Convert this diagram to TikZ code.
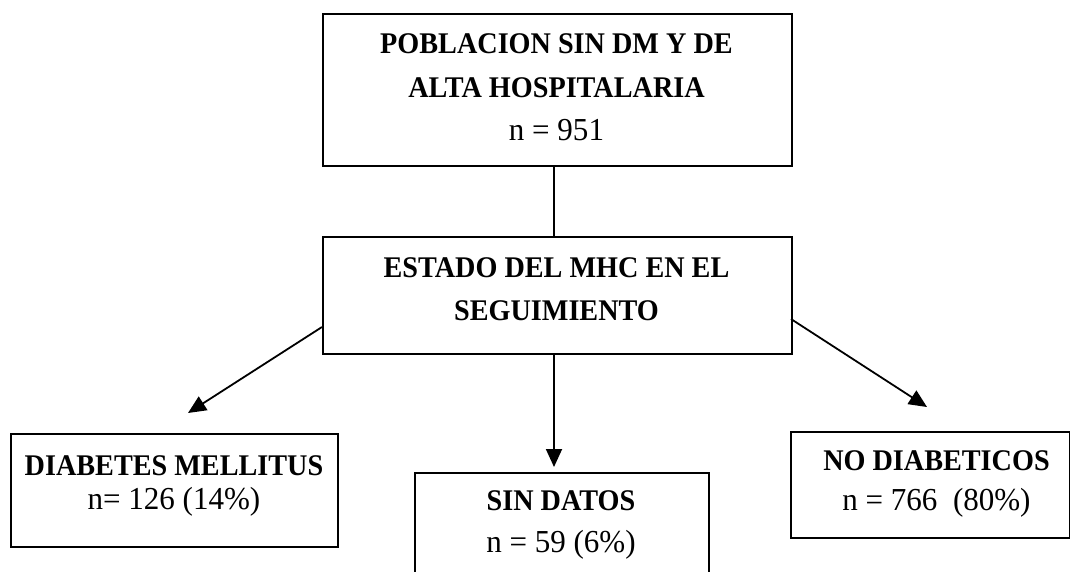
\documentclass[tikz,border=0pt]{standalone}
\usepackage{fontspec}
\setmainfont{Liberation Serif}[FakeStretch=0.97]
\newfontfamily\ttlfont{Liberation Serif}[FakeStretch=0.94]
\usetikzlibrary{arrows.meta}
\tikzset{
  box/.style={draw, line width=1.5pt, inner sep=0pt, anchor=north west},
  lbl/.style={anchor=base, inner sep=0pt, font=\fontsize{32}{38}\selectfont},
  ttl/.style={lbl, font=\fontsize{30}{36}\selectfont\ttlfont\bfseries},
  conn/.style={line width=1.8pt},
  arr/.style={conn, -{Triangle[length=18pt,width=16pt]}}
}
\begin{document}
\begin{tikzpicture}[x=1pt,y=-1pt]
\useasboundingbox (0,0) rectangle (1070,571);
% boxes
\node[box, minimum width=469pt, minimum height=152pt] (top) at (322,13) {};
\node[box, minimum width=469pt, minimum height=117pt] (mid) at (322,236) {};
\node[box, minimum width=327pt, minimum height=113pt] (dm) at (10,433) {};
\node[box, minimum width=294pt, minimum height=130pt] (sd) at (414,472) {};
\node[box, minimum width=279pt, minimum height=106pt] (nd) at (790,431) {};
% texts
\node[ttl] (t1) at (556.5,53) {POBLACION SIN DM Y DE};
\node[ttl] (t2) at (556.5,97) {ALTA HOSPITALARIA};
\node[lbl] (t3) at (556.5,140) {n = 951};
\node[ttl] (m1) at (556.5,277) {ESTADO DEL MHC EN EL};
\node[ttl] (m2) at (556.5,320) {SEGUIMIENTO};
\node[ttl] (d1) at (174,475) {DIABETES MELLITUS};
\node[lbl] (d2) at (174,509) {n= 126 (14\%)};
\node[ttl] (s1) at (561,510) {SIN DATOS};
\node[lbl] (s2) at (561,552) {n = 59 (6\%)};
\node[ttl] (n1) at (936.5,470) {NO DIABETICOS};
\node[lbl] (n2) at (936.5,510) {n = 766~~(80\%)};
% connector endpoints
\coordinate (dmtip) at (188,413);
\coordinate (sdtip) at (554,467);
\coordinate (ndtip) at (927,407);
\coordinate (midtop) at (554,236);
\coordinate (topbot) at (554,165);
\coordinate (midbot) at (554,353);
\coordinate (midl) at (322,327);
\coordinate (midr) at (791,319);
% connectors
\draw[conn] (topbot) -- (midtop);
\draw[arr] (midl) -- (dmtip);
\draw[arr] (midbot) -- (sdtip);
\draw[arr] (midr) -- (ndtip);
\end{tikzpicture}
\end{document}
